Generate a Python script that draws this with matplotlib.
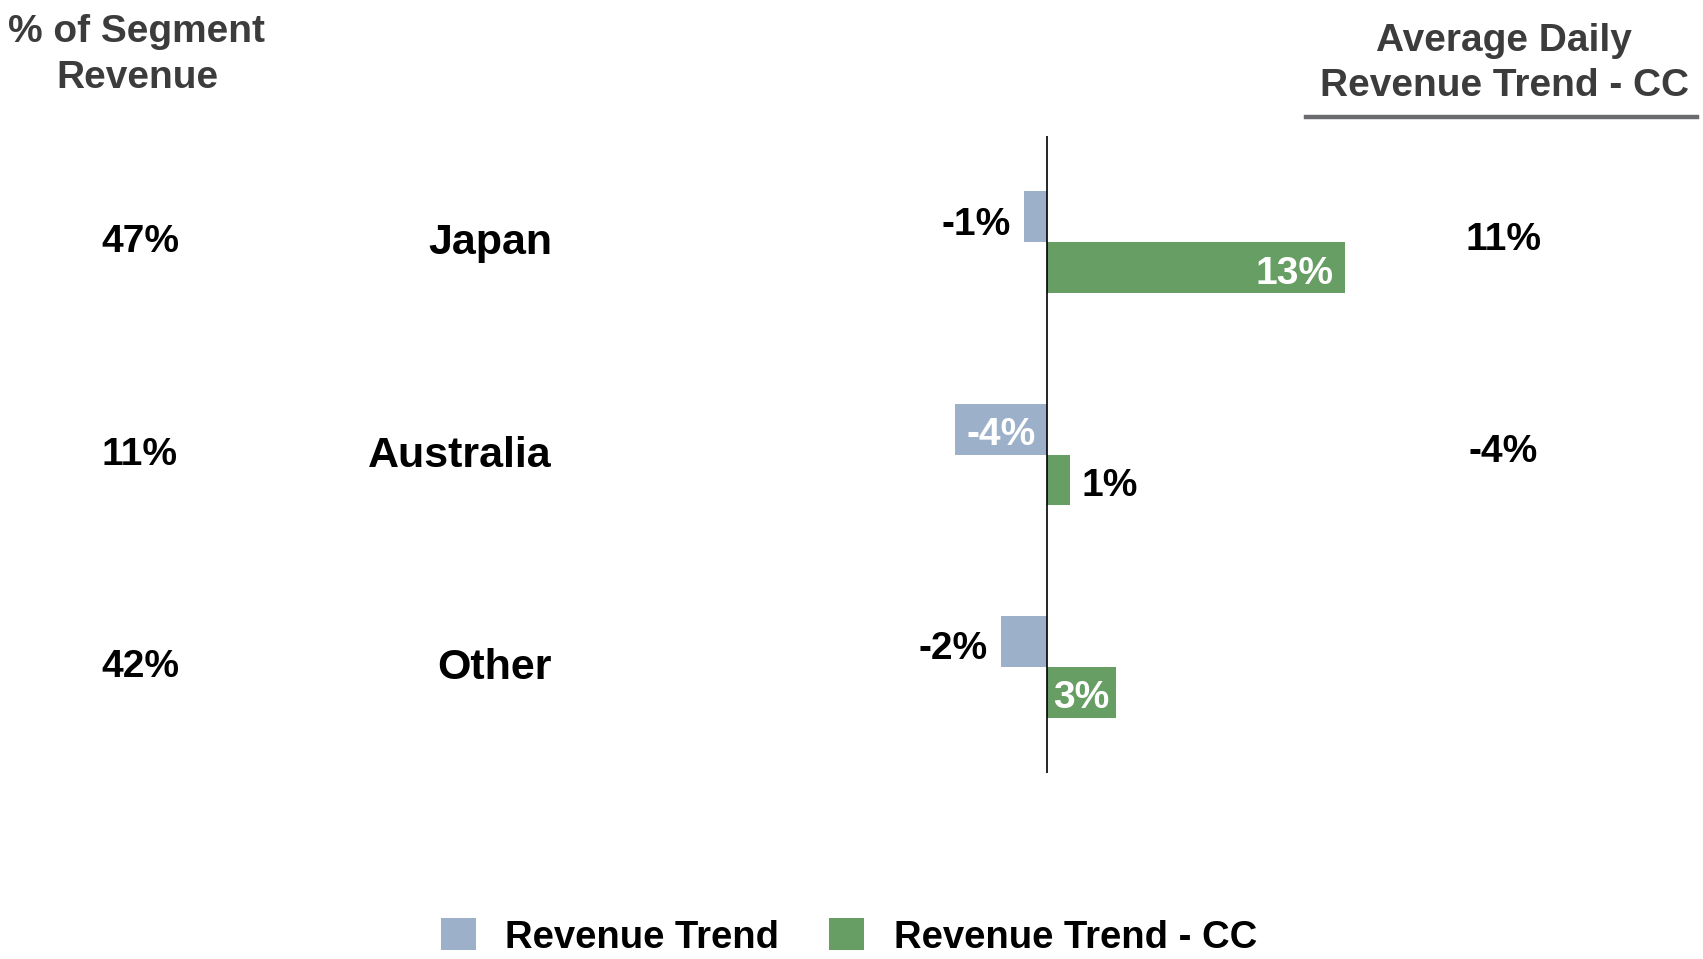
import matplotlib
matplotlib.use("Agg")
import matplotlib.pyplot as plt
import numpy as np
from matplotlib.transforms import blended_transform_factory
from matplotlib.patches import Patch

# ---- data ----
regions = ["Japan", "Australia", "Other"]
segment_share = ["47%", "11%", "42%"]
revenue_trend = [-1, -4, -2]
revenue_trend_cc = [13, 1, 3]
avg_daily_cc = ["11%", "-4%", ""]
series_names = ["Revenue Trend", "Revenue Trend - CC"]

BLUE = "#9CB0C9"
GREEN = "#669E63"
TITLE_GRAY = "#3C3C3C"

plt.rcParams['font.family'] = ['Liberation Sans', 'DejaVu Sans']

W, H = 1703, 959
fig = plt.figure(figsize=(W / 100, H / 100), dpi=100)

# axes for bars
ax_left_px, ax_right_px = 934, 1412
ax_top_px, ax_bot_px = 136, 773
ax = fig.add_axes([ax_left_px / W, 1 - ax_bot_px / H,
                   (ax_right_px - ax_left_px) / W, (ax_bot_px - ax_top_px) / H])
y = np.arange(len(regions))
bh = 0.24
ax.barh(y - bh / 2, revenue_trend, height=bh, color=BLUE, label=series_names[0])
ax.barh(y + bh / 2, revenue_trend_cc, height=bh, color=GREEN, label=series_names[1])
ax.set_xlim(-4.93, 15.92)
ax.set_ylim(2.5, -0.5)
ax.axvline(0, color="black", lw=1.2)
for s in ax.spines.values():
    s.set_visible(False)
ax.set_xticks([])
ax.set_yticks([])
ax.patch.set_alpha(0)

FS = 28
DY = 0.028  # visual centring of labels on bars

def label_bar(v, yc):
    txt = f"{v}%"
    yc = yc + DY
    if abs(v) >= 3:
        if abs(v) >= 6:
            ax.text(v - np.sign(v) * 0.52, yc, txt, ha='right' if v > 0 else 'left',
                    va='center', color='white', fontsize=FS, fontweight='bold')
        else:
            ax.text(v / 2, yc, txt, ha='center', va='center', color='white',
                    fontsize=FS, fontweight='bold')
    else:
        if v < 0:
            ax.text(v - 0.6, yc + 0.01, txt, ha='right', va='center', color='black',
                    fontsize=FS, fontweight='bold')
        else:
            ax.text(v + 0.5, yc, txt, ha='left', va='center', color='black',
                    fontsize=FS, fontweight='bold')

for i in range(len(regions)):
    label_bar(revenue_trend[i], y[i] - bh / 2)
    label_bar(revenue_trend_cc[i], y[i] + bh / 2)

# side columns
tr = blended_transform_factory(fig.transFigure, ax.transData)
for i in range(len(regions)):
    fig.text(140 / W, y[i], segment_share[i], transform=tr, ha='center', va='center',
             fontsize=FS, fontweight='bold', color='black')
    fig.text(552 / W, y[i] + 0.005, regions[i], transform=tr, ha='right', va='center',
             fontsize=31, fontweight='bold', color='black')
    if avg_daily_cc[i]:
        fig.text(1503 / W, y[i] - 0.01, avg_daily_cc[i], transform=tr, ha='center', va='center',
                 fontsize=FS, fontweight='bold', color='black')

# headers
fig.text(137 / W, 1 - 55 / H, "% of Segment\nRevenue", ha='center', va='center',
         fontsize=FS, fontweight='bold', color=TITLE_GRAY, linespacing=1.34)
fig.text(1504 / W, 1 - 63.5 / H, "Average Daily\nRevenue Trend - CC", ha='center', va='center',
         fontsize=FS, fontweight='bold', color=TITLE_GRAY, linespacing=1.32)
fig.add_artist(plt.Line2D([1306 / W, 1697 / W], [1 - 117 / H, 1 - 117 / H],
                          transform=fig.transFigure, color="#6B6C70", lw=3.2))

# legend
handles = [Patch(facecolor=BLUE, edgecolor='none'), Patch(facecolor=GREEN, edgecolor='none')]
lfont = dict(family=['Liberation Sans', 'DejaVu Sans'], weight='bold', size=27.5)
leg = fig.legend(handles, series_names, loc='center', bbox_to_anchor=(849 / W, 1 - 937 / H),
                 ncol=2, frameon=False, prop=lfont, handlelength=0.9, handleheight=0.9,
                 handletextpad=0.78, columnspacing=1.31, borderpad=0, borderaxespad=0)

fig.savefig("out.png", dpi=100)
